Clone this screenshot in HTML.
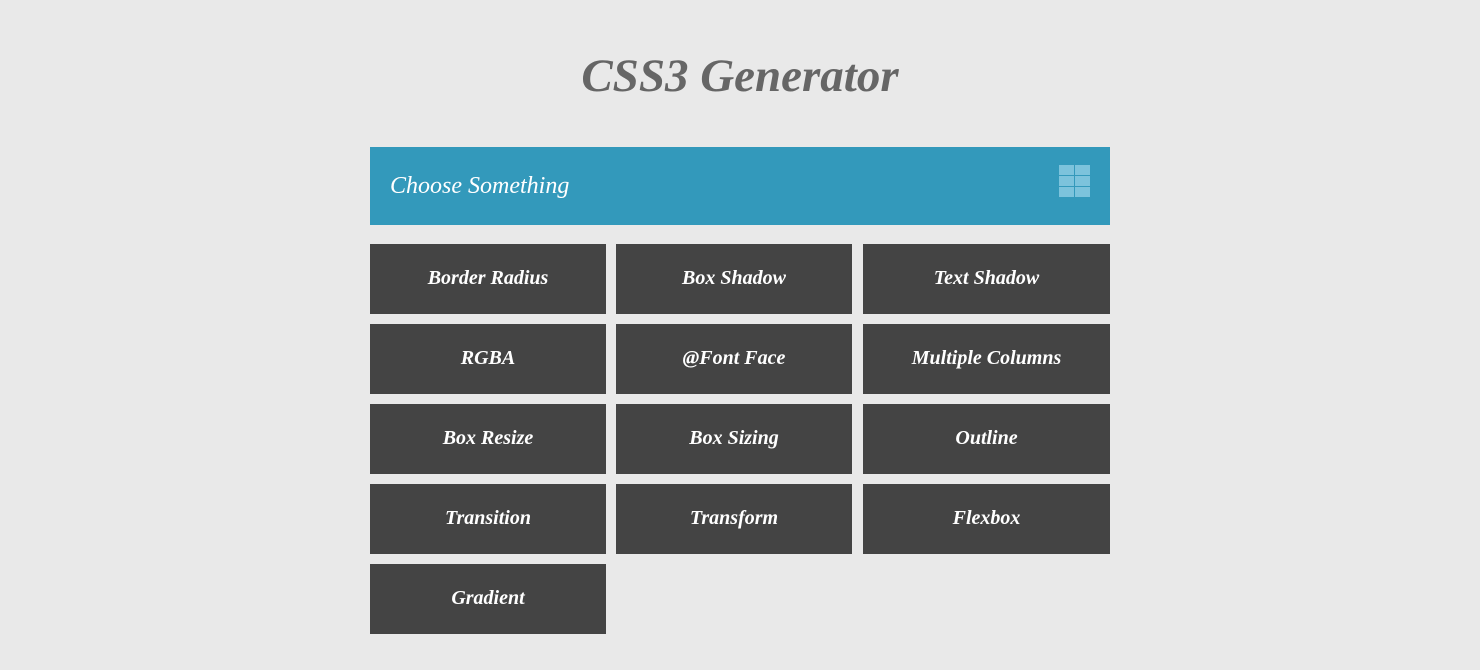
<!DOCTYPE html>
<html><head><meta charset="utf-8"><style>
body{margin:0;width:1480px;height:670px;background:#e9e9e9;position:relative;overflow:hidden;font-family:"Liberation Serif",serif;font-style:italic}
h1{position:absolute;left:0;width:1480px;top:46px;margin:0;text-align:center;font-size:47px;font-weight:bold;color:#666;line-height:60px}
.bar{position:absolute;left:370px;top:147px;width:740px;height:78px;background:#3399bb}
.bar span{position:absolute;left:20px;top:24px;color:#fff;font-size:24px;line-height:30px}
.ic{position:absolute;left:1059px;top:165px;width:31px;height:32px;display:grid;grid-template-columns:15px 15px;grid-template-rows:10px 10px 10px;gap:1px}
.ic i{background:#7cc3dc}
.t{position:absolute;width:236px;height:70px;background:#444;color:#fff;font-size:20px;font-weight:bold;text-align:center;line-height:68px}
</style></head><body>
<h1>CSS3 Generator</h1>
<div class="bar"><span>Choose Something</span></div>
<div class="ic"><i></i><i></i><i></i><i></i><i></i><i></i></div>
<div class="t" style="left:370px;top:244px">Border Radius</div>
<div class="t" style="left:616px;top:244px">Box Shadow</div>
<div class="t" style="left:863px;top:244px;width:247px">Text Shadow</div>
<div class="t" style="left:370px;top:324px">RGBA</div>
<div class="t" style="left:616px;top:324px">@Font Face</div>
<div class="t" style="left:863px;top:324px;width:247px">Multiple Columns</div>
<div class="t" style="left:370px;top:404px">Box Resize</div>
<div class="t" style="left:616px;top:404px">Box Sizing</div>
<div class="t" style="left:863px;top:404px;width:247px">Outline</div>
<div class="t" style="left:370px;top:484px">Transition</div>
<div class="t" style="left:616px;top:484px">Transform</div>
<div class="t" style="left:863px;top:484px;width:247px">Flexbox</div>
<div class="t" style="left:370px;top:564px">Gradient</div>
</body></html>
